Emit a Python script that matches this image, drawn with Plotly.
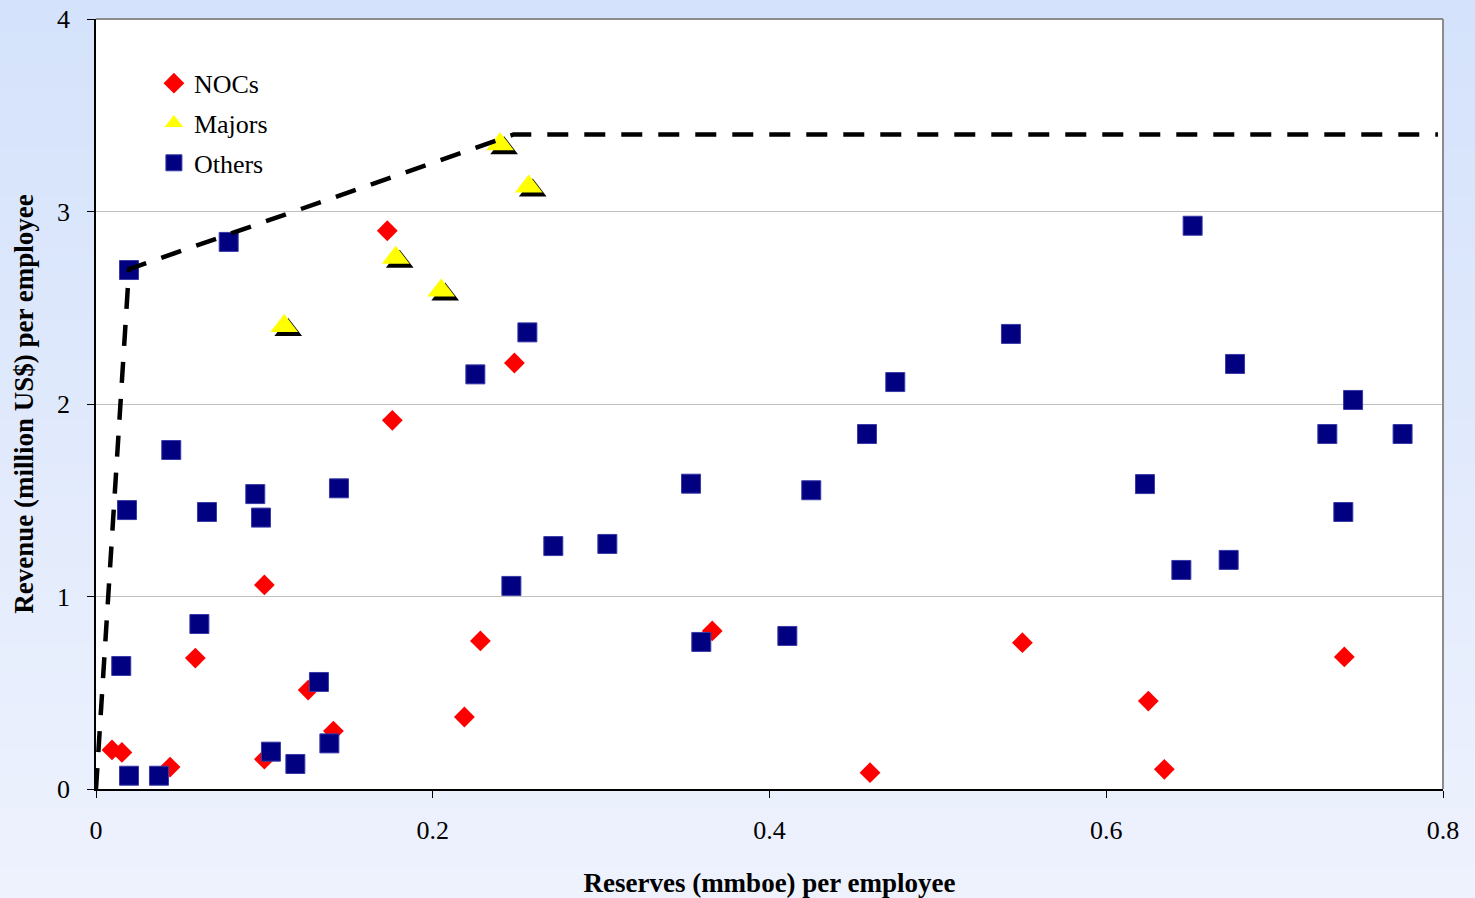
import plotly.graph_objects as go

# ---- data ----
noc_x = [0.0095, 0.0154, 0.044, 0.059, 0.100, 0.100, 0.126, 0.141, 0.173, 0.176,
         0.2188, 0.2283, 0.2485, 0.366, 0.4597, 0.5502, 0.625, 0.6345, 0.7414]
noc_y = [0.203, 0.190, 0.114, 0.680, 1.060, 0.155, 0.514, 0.301, 2.900, 1.915,
         0.374, 0.769, 2.213, 0.821, 0.085, 0.760, 0.457, 0.102, 0.686]

maj_x = [0.1118, 0.178, 0.205, 0.240, 0.257]
maj_y = [2.405, 2.76, 2.59, 3.35, 3.13]

oth_x = [0.0184, 0.0659, 0.0946, 0.098, 0.1443, 0.0614, 0.015, 0.1324, 0.1386, 0.1039,
         0.1184, 0.0196, 0.0374, 0.0196, 0.0788, 0.0447, 0.2562, 0.2253, 0.3534, 0.2716,
         0.3037, 0.2467, 0.3595, 0.5434, 0.4747, 0.4579, 0.4248, 0.4106, 0.6513, 0.6765,
         0.7466, 0.7313, 0.776, 0.623, 0.7408, 0.6727, 0.6446]
oth_y = [1.449, 1.439, 1.532, 1.410, 1.562, 0.857, 0.639, 0.556, 0.237, 0.194,
         0.130, 0.069, 0.069, 2.696, 2.842, 1.761, 2.372, 2.154, 1.586, 1.262,
         1.273, 1.055, 0.764, 2.364, 2.114, 1.844, 1.552, 0.795, 2.926, 2.208,
         2.021, 1.844, 1.844, 1.584, 1.439, 1.190, 1.138]

frontier_x = [0.0, 0.0196, 0.248, 0.797]
frontier_y = [0.0, 2.70, 3.40, 3.40]

x_ticks = [0, 0.2, 0.4, 0.6, 0.8]
x_ticklabels = ["0", "0.2", "0.4", "0.6", "0.8"]
y_ticks = [0, 1, 2, 3, 4]
y_ticklabels = ["0", "1", "2", "3", "4"]

# ---- layout geometry ----
W, H = 1475, 898
ML, MR, MT, MB = 96, 32, 19, 109
PW, PH = W - ML - MR, H - MT - MB
XMAX, YMAX = 0.8, 4.0
shadow_dx = 4 * XMAX / PW
shadow_dy = 4 * YMAX / PH

FONT = "Liberation Serif, Times New Roman, serif"

fig = go.Figure()

fig.add_trace(go.Scatter(
    x=noc_x, y=noc_y, mode="markers", name="NOCs",
    marker=dict(symbol="diamond", size=16, color="#ff0000", line=dict(width=0)),
    legendgroup="a"))

fig.add_trace(go.Scatter(
    x=[v + shadow_dx for v in maj_x], y=[v - shadow_dy for v in maj_y],
    mode="markers", showlegend=False, hoverinfo="skip",
    marker=dict(symbol="triangle-up", size=24, color="#000000", line=dict(width=0))))

fig.add_trace(go.Scatter(
    x=maj_x, y=maj_y, mode="markers", name="Majors",
    marker=dict(symbol="triangle-up", size=24, color="#ffff00", line=dict(width=0)),
    legendgroup="b"))

fig.add_trace(go.Scatter(
    x=oth_x, y=oth_y, mode="markers", name="Others",
    marker=dict(symbol="square", size=19, color="#000080",
                line=dict(width=1, color="#3a3aa8")),
    legendgroup="c"))

fig.add_trace(go.Scatter(
    x=frontier_x, y=frontier_y, mode="lines", showlegend=False, hoverinfo="skip",
    line=dict(color="#000000", width=4.5, dash="21px,16px")))

# background gradient (vertical) built from stripes
shapes = []
n = 60
top_c = (212, 226, 251)
bot_c = (238, 242, 253)
for i in range(n):
    t = i / (n - 1)
    c = tuple(round(top_c[k] + (bot_c[k] - top_c[k]) * t) for k in range(3))
    py0 = i * H / n
    py1 = (i + 1) * H / n + 1
    shapes.append(dict(
        type="rect", xref="paper", yref="paper", layer="below",
        x0=-ML / PW - 0.01, x1=1 + MR / PW + 0.01,
        y0=(H - MB - py1) / PH, y1=(H - MB - py0) / PH,
        line=dict(width=0), fillcolor="rgb(%d,%d,%d)" % c))
shapes.append(dict(type="rect", xref="paper", yref="paper", layer="below",
                   x0=0, x1=1, y0=0, y1=1, line=dict(width=0), fillcolor="white"))
# gray frame on top & right
shapes.append(dict(type="line", xref="paper", yref="paper", layer="above",
                   x0=0, x1=1, y0=1, y1=1, line=dict(color="#8c8c8c", width=2)))
shapes.append(dict(type="line", xref="paper", yref="paper", layer="above",
                   x0=1, x1=1, y0=0, y1=1, line=dict(color="#8c8c8c", width=2)))

fig.update_layout(
    width=W, height=H,
    margin=dict(l=ML, r=MR, t=MT, b=MB, pad=0, autoexpand=False),
    paper_bgcolor="rgb(226,234,252)",
    plot_bgcolor="white",
    font=dict(family=FONT, size=24, color="black"),
    shapes=shapes,
    showlegend=True,
    legend=dict(x=0.043, y=0.947, xanchor="left", yanchor="top",
                bgcolor="rgba(0,0,0,0)", borderwidth=0,
                font=dict(family=FONT, size=26, color="black"),
                traceorder="grouped", tracegroupgap=3,
                itemwidth=30),
    xaxis=dict(range=[0, XMAX], tickvals=x_ticks, ticktext=x_ticklabels,
               showgrid=False, zeroline=False, automargin=False,
               showline=True, linecolor="black", linewidth=1.5,
               ticks="outside", ticklen=7, tickcolor="black", tickwidth=1,
               ticklabelstandoff=10,
               tickfont=dict(family=FONT, size=26),
               title=dict(text="<b>Reserves (mmboe) per employee</b>",
                          font=dict(family=FONT, size=27), standoff=32)),
    yaxis=dict(range=[0, YMAX], tickvals=y_ticks, ticktext=y_ticklabels,
               showgrid=True, gridcolor="#c0c0c0", gridwidth=1,
               zeroline=False, automargin=False,
               showline=True, linecolor="black", linewidth=1.5,
               ticks="outside", ticklen=7, tickcolor="black", tickwidth=1,
               ticklabelstandoff=12,
               tickfont=dict(family=FONT, size=26),
               title=dict(text="<b>Revenue (million US$) per employee</b>",
                          font=dict(family=FONT, size=27), standoff=16)),
)

fig.write_html("out.html")
